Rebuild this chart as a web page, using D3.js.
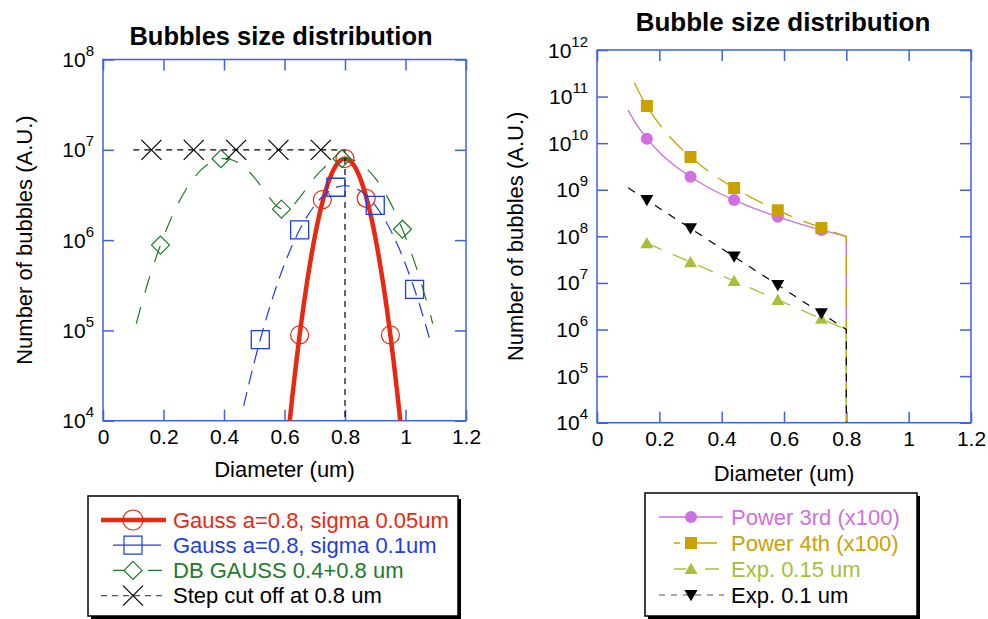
<!DOCTYPE html>
<html>
<head>
<meta charset="utf-8">
<script src="https://cdn.jsdelivr.net/npm/d3@7"></script>
<style>
  body { margin: 0; background: #fff; }
  svg { font-family: "Liberation Sans", Arial, Helvetica, sans-serif; }
</style>
</head>
<body>
<svg id="chart" width="988" height="619"></svg>
<script>
// ===========================================================
// DATA
// ===========================================================
var xTickValues = [0, 0.2, 0.4, 0.6, 0.8, 1, 1.2];
var leftDecades = [1e4, 1e5, 1e6, 1e7, 1e8];
var rightDecades = [1e4, 1e5, 1e6, 1e7, 1e8, 1e9, 1e10, 1e11, 1e12];

// --- left panel: Gauss a=0.8, sigma 0.05um
var narrowX = [0.6, 0.6125, 0.625, 0.6375, 0.65, 0.6625, 0.675, 0.6875, 0.7, 0.7125, 0.725, 0.7375, 0.75, 0.7625, 0.775, 0.7875, 0.8,
               0.8125, 0.825, 0.8375, 0.85, 0.8625, 0.875, 0.8875, 0.9, 0.9125, 0.925, 0.9375, 0.95, 0.9625, 0.975, 0.9875, 1.0];
var narrowY = [2.68e3, 7.07e3, 1.75e4, 4.07e4, 8.89e4, 1.82e5, 3.52e5, 6.36e5, 1.08e6, 1.73e6, 2.60e6, 3.66e6, 4.85e6, 6.04e6, 7.06e6, 7.75e6, 8.0e6,
               7.75e6, 7.06e6, 6.04e6, 4.85e6, 3.66e6, 2.60e6, 1.73e6, 1.08e6, 6.36e5, 3.52e5, 1.82e5, 8.89e4, 4.07e4, 1.75e4, 7.07e3, 2.68e3];
var narrowMarkX = [0.65, 0.725, 0.8, 0.87, 0.95];
var narrowMarkY = [8.9e4, 2.8e6, 8.0e6, 2.9e6, 8.9e4];

// --- left panel: Gauss a=0.8, sigma 0.1um
var wideX = [0.465, 0.5, 0.525, 0.55, 0.575, 0.6, 0.625, 0.65, 0.675, 0.7, 0.725, 0.75, 0.775, 0.8,
             0.825, 0.85, 0.875, 0.9, 0.925, 0.95, 0.975, 1.0, 1.025, 1.05, 1.075, 1.08];
var wideY = [1.46e4, 4.44e4, 9.12e4, 1.76e5, 3.18e5, 5.41e5, 8.65e5, 1.30e6, 1.83e6, 2.43e6, 3.02e6, 3.53e6, 3.88e6, 4.0e6,
             3.88e6, 3.53e6, 3.02e6, 2.43e6, 1.83e6, 1.30e6, 8.65e5, 5.41e5, 3.18e5, 1.76e5, 9.12e4, 7.93e4];
var wideMarkX = [0.52, 0.65, 0.77, 0.9, 1.03];
var wideMarkY = [7.9e4, 1.3e6, 3.85e6, 2.43e6, 2.84e5];

// --- left panel: DB GAUSS 0.4+0.8 um
var dbX = [0.11, 0.125, 0.15, 0.175, 0.2, 0.225, 0.25, 0.275, 0.3, 0.325, 0.35, 0.375, 0.4, 0.425, 0.45, 0.475, 0.5, 0.525, 0.55, 0.575, 0.6,
           0.625, 0.65, 0.675, 0.7, 0.725, 0.75, 0.775, 0.8, 0.825, 0.85, 0.875, 0.9, 0.925, 0.95, 0.975, 1.0, 1.025, 1.05, 1.075, 1.09];
var dbY = [1.19e5, 1.82e5, 3.52e5, 6.36e5, 1.08e6, 1.73e6, 2.60e6, 3.66e6, 4.85e6, 6.04e6, 7.06e6, 7.75e6, 8.0e6, 7.76e6, 7.08e6, 6.08e6, 4.94e6, 3.84e6, 2.95e6, 2.37e6, 2.17e6,
           2.37e6, 2.95e6, 3.84e6, 4.94e6, 6.08e6, 7.08e6, 7.76e6, 8.0e6, 7.75e6, 7.06e6, 6.04e6, 4.85e6, 3.66e6, 2.60e6, 1.73e6, 1.08e6, 6.36e5, 3.52e5, 1.82e5, 1.19e5];
var dbMarkX = [0.19, 0.39, 0.59, 0.79, 0.99];
var dbMarkY = [8.8e5, 7.96e6, 2.2e6, 7.96e6, 1.32e6];

// --- left panel: Step cut off at 0.8 um
var stepX = [0.1, 0.8];
var stepY = [1e7, 1e7];
var stepMarkX = [0.16, 0.30, 0.44, 0.58, 0.72];
var stepMarkY = [1e7, 1e7, 1e7, 1e7, 1e7];

// --- right panel (all series cut at 0.8 um)
var cutX = 0.8;
var cutY = 1e3;
var markX = [0.16, 0.30, 0.44, 0.58, 0.72];

var pow3X = [0.1, 0.125, 0.15, 0.2, 0.25, 0.3, 0.35, 0.4, 0.45, 0.5, 0.55, 0.6, 0.65, 0.7, 0.75, 0.8];
var pow3Y = [5.12e10, 2.62e10, 1.52e10, 6.4e9, 3.28e9, 1.9e9, 1.19e9, 8.0e8, 5.62e8, 4.1e8, 3.08e8, 2.37e8, 1.86e8, 1.49e8, 1.21e8, 1.0e8];
var pow3MarkY = [1.25e10, 1.9e9, 6.01e8, 2.62e8, 1.37e8];

var pow4X = [0.12, 0.13, 0.14, 0.15, 0.175, 0.2, 0.25, 0.3, 0.35, 0.4, 0.45, 0.5, 0.55, 0.6, 0.65, 0.7, 0.75, 0.8];
var pow4Y = [1.975e11, 1.434e11, 1.066e11, 8.09e10, 4.37e10, 2.56e10, 1.049e10, 5.06e9, 2.73e9, 1.6e9, 9.99e8, 6.55e8, 4.48e8, 3.16e8, 2.29e8, 1.71e8, 1.29e8, 1.0e8];
var pow4MarkY = [6.25e10, 5.06e9, 1.09e9, 3.62e8, 1.52e8];

var exp15X = [0.16, 0.3, 0.44, 0.58, 0.72, 0.8];
var exp15Y = [7.13e7, 2.8e7, 1.1e7, 4.33e6, 1.7e6, 1.0e6];
var exp15MarkY = [7.13e7, 2.8e7, 1.1e7, 4.33e6, 1.7e6];

var exp10X = [0.1, 0.2, 0.3, 0.4, 0.5, 0.6, 0.7, 0.8];
var exp10Y = [1.10e9, 4.03e8, 1.48e8, 5.46e7, 2.01e7, 7.39e6, 2.72e6, 1.0e6];
var exp10MarkY = [6.02e8, 1.48e8, 3.66e7, 9.02e6, 2.22e6];

// ===========================================================
// STYLE
// ===========================================================
var frameColor = '#3f60e8';
var red = '#e8290f', blue = '#1e3de4', green = '#227a2c';
var pink = '#d070e0', gold = '#c9a200', lime = '#a6c03a';

function zip(xs, ys) { return xs.map(function(v, i) { return [v, ys[i]]; }); }

var svg = d3.select('#chart');

// ===========================================================
// PANEL (frame, ticks, labels)
// ===========================================================
function makePanel(opt) {
    var x = d3.scaleLinear().domain([0, 1.2]).range([opt.left, opt.right]);
    var y = d3.scaleLog().domain(opt.yDomain).range([opt.bottom, opt.top]);
    var g = svg.append('g');

    g.append('clipPath').attr('id', opt.id)
        .append('rect')
        .attr('x', opt.left).attr('y', opt.top)
        .attr('width', opt.right - opt.left).attr('height', opt.bottom - opt.top);

    var bottomAxis = g.append('g')
        .attr('transform', 'translate(0,' + opt.bottom + ')')
        .call(d3.axisBottom(x).tickValues(xTickValues).tickSize(-11).tickPadding(8).tickFormat(function(d) { return String(d); }));
    var topAxis = g.append('g')
        .attr('transform', 'translate(0,' + opt.top + ')')
        .call(d3.axisTop(x).tickValues(xTickValues).tickSize(-11).tickFormat(''));
    var leftAxis = g.append('g')
        .attr('transform', 'translate(' + opt.left + ',0)')
        .call(d3.axisLeft(y).tickValues(opt.decades).tickSize(-11).tickFormat(''));
    var rightAxis = g.append('g')
        .attr('transform', 'translate(' + opt.right + ',0)')
        .call(d3.axisRight(y).tickValues(opt.decades).tickSize(-11).tickFormat(''));

    [bottomAxis, topAxis, leftAxis, rightAxis].forEach(function(a) {
        a.select('.domain').remove();
        a.selectAll('.tick line').attr('stroke', frameColor).attr('stroke-width', 1.5);
    });
    bottomAxis.selectAll('.tick text')
        .attr('fill', '#000').style('font-size', '21px').style('font-family', 'inherit');

    // decade labels: 10 with superscript exponent
    var lbl = leftAxis.selectAll('.tick').append('text')
        .attr('x', -9).attr('y', 7)
        .attr('fill', '#000')
        .attr('text-anchor', 'end')
        .style('font-size', '21px');
    lbl.append('tspan').text('10');
    lbl.append('tspan')
        .attr('dy', -11)
        .style('font-size', '15px')
        .text(function(d) { return Math.round(Math.log10(d)); });

    g.append('rect')
        .attr('x', opt.left).attr('y', opt.top)
        .attr('width', opt.right - opt.left).attr('height', opt.bottom - opt.top)
        .attr('fill', 'none').attr('stroke', frameColor).attr('stroke-width', 1.5);

    g.append('text')
        .attr('x', opt.titleX).attr('y', opt.titleY)
        .attr('text-anchor', 'middle')
        .style('font-size', opt.titleSize + 'px').style('font-weight', 'bold')
        .text(opt.title);

    g.append('text')
        .attr('x', (opt.left + opt.right) / 2).attr('y', opt.xLabelY)
        .attr('text-anchor', 'middle').style('font-size', '22px')
        .text('Diameter (um)');

    g.append('text')
        .attr('transform', 'translate(' + opt.yLabelX + ',' + (opt.top + opt.bottom) / 2 + ') rotate(-90)')
        .attr('text-anchor', 'middle').style('font-size', '22px')
        .text('Number of bubbles (A.U.)');

    var plot = g.append('g').attr('clip-path', 'url(#' + opt.id + ')');
    return { x: x, y: y, g: g, plot: plot };
}

function drawLine(p, pts, curve, color, width, dash, drop) {
    var line = d3.line().x(function(d) { return p.x(d[0]); }).y(function(d) { return p.y(d[1]); }).curve(curve);
    var d = line(pts);
    if (drop) {
        var lin = d3.line().x(function(d) { return p.x(d[0]); }).y(function(d) { return p.y(d[1]); });
        d += lin([pts[pts.length - 1], drop]).replace(/^M[^L]*/, '');
    }
    p.plot.append('path')
        .attr('d', d)
        .attr('fill', 'none')
        .attr('stroke', color)
        .attr('stroke-width', width)
        .attr('stroke-dasharray', dash || null)
        .attr('stroke-linejoin', 'round');
}

// marker shapes centred on (cx, cy)
function markerPath(kind, cx, cy, s) {
    var h = s / 2;
    if (kind === 'square') return 'M' + (cx - h) + ',' + (cy - h) + 'h' + s + 'v' + s + 'h' + (-s) + 'Z';
    if (kind === 'diamond') return 'M' + cx + ',' + (cy - h) + 'L' + (cx + h) + ',' + cy + 'L' + cx + ',' + (cy + h) + 'L' + (cx - h) + ',' + cy + 'Z';
    if (kind === 'times') return 'M' + (cx - h) + ',' + (cy - h) + 'L' + (cx + h) + ',' + (cy + h) + 'M' + (cx - h) + ',' + (cy + h) + 'L' + (cx + h) + ',' + (cy - h);
    if (kind === 'up') return 'M' + cx + ',' + (cy - h * 0.95) + 'L' + (cx + h) + ',' + (cy + h * 0.78) + 'L' + (cx - h) + ',' + (cy + h * 0.78) + 'Z';
    if (kind === 'down') return 'M' + cx + ',' + (cy + h * 0.95) + 'L' + (cx + h) + ',' + (cy - h * 0.78) + 'L' + (cx - h) + ',' + (cy - h * 0.78) + 'Z';
    return d3.path().toString();
}

function drawMarkers(target, pts, sx, sy, kind, size, color, filled, sw) {
    if (kind === 'circle') {
        target.selectAll(null).data(pts).enter().append('circle')
            .attr('cx', function(d) { return sx(d[0]); })
            .attr('cy', function(d) { return sy(d[1]); })
            .attr('r', size / 2)
            .attr('fill', filled ? color : 'none')
            .attr('stroke', color).attr('stroke-width', filled ? 0 : sw);
        return;
    }
    target.selectAll(null).data(pts).enter().append('path')
        .attr('d', function(d) { return markerPath(kind, sx(d[0]), sy(d[1]), size); })
        .attr('fill', filled ? color : 'none')
        .attr('stroke', filled ? 'none' : color)
        .attr('stroke-width', sw);
}

// ===========================================================
// LEFT PANEL
// ===========================================================
var L = makePanel({
    id: 'clipL', left: 103, right: 466, top: 59.5, bottom: 420.7,
    yDomain: [1e4, 1e8], decades: leftDecades,
    title: 'Bubbles size distribution', titleX: 281, titleY: 45, titleSize: 25.5,
    xLabelY: 477, yLabelX: 32
});

drawLine(L, zip(narrowX, narrowY), d3.curveMonotoneX, red, 4.5, null);
drawLine(L, zip(wideX, wideY), d3.curveMonotoneX, blue, 1.2, '14,8');
drawLine(L, zip(dbX, dbY), d3.curveMonotoneX, green, 1.2, '17,15');
drawLine(L, zip(stepX, stepY), d3.curveLinear, '#000', 1.2, '6,5', [0.8, 1e3]);

drawMarkers(L.plot, zip(narrowMarkX, narrowMarkY), L.x, L.y, 'circle', 18, red, false, 1.2);
drawMarkers(L.plot, zip(wideMarkX, wideMarkY), L.x, L.y, 'square', 18, blue, false, 1.3);
drawMarkers(L.plot, zip(dbMarkX, dbMarkY), L.x, L.y, 'diamond', 18, green, false, 1.2);
drawMarkers(L.plot, zip(stepMarkX, stepMarkY), L.x, L.y, 'times', 20, '#000', false, 1.2);

// ===========================================================
// RIGHT PANEL
// ===========================================================
var R = makePanel({
    id: 'clipR', left: 597, right: 971, top: 50, bottom: 422.7,
    yDomain: [1e4, 1e12], decades: rightDecades,
    title: 'Bubble size distribution', titleX: 783, titleY: 31, titleSize: 26,
    xLabelY: 481, yLabelX: 523
});

drawLine(R, zip(pow3X, pow3Y), d3.curveMonotoneX, pink, 1.3, null, [cutX, cutY]);
drawLine(R, zip(pow4X, pow4Y), d3.curveMonotoneX, gold, 1.3, '20,12', [cutX, cutY]);
drawLine(R, zip(exp15X, exp15Y), d3.curveLinear, lime, 1.3, '16,12', [cutX, cutY]);
drawLine(R, zip(exp10X, exp10Y), d3.curveLinear, '#000', 1.2, '8,8', [cutX, cutY]);

drawMarkers(R.plot, zip(markX, pow3MarkY), R.x, R.y, 'circle', 12, pink, true, 0);
drawMarkers(R.plot, zip(markX, pow4MarkY), R.x, R.y, 'square', 12, gold, true, 0);
drawMarkers(R.plot, zip(markX, exp15MarkY), R.x, R.y, 'up', 13, lime, true, 0);
drawMarkers(R.plot, zip(markX, exp10MarkY), R.x, R.y, 'down', 13, '#000', true, 0);

// ===========================================================
// LEGENDS
// ===========================================================
function legendBox(x0, y0, w, h) {
    svg.append('rect').attr('x', x0 + 3).attr('y', y0 + 3).attr('width', w).attr('height', h).attr('fill', '#000');
    svg.append('rect').attr('x', x0).attr('y', y0).attr('width', w).attr('height', h)
        .attr('fill', '#fff').attr('stroke', '#000').attr('stroke-width', 1.5);
}

var leftLegend = [
    { label: 'Gauss a=0.8, sigma 0.05um', color: red, width: 4.5, dash: null, x1: 101, x2: 166, kind: 'circle', size: 20, filled: false },
    { label: 'Gauss a=0.8, sigma 0.1um', color: blue, width: 1.2, dash: null, x1: 113, x2: 161, kind: 'square', size: 18, filled: false },
    { label: 'DB GAUSS 0.4+0.8 um', color: green, width: 1.2, dash: '12,23,14', x1: 113, x2: 162, kind: 'diamond', size: 18, filled: false },
    { label: 'Step cut off at 0.8 um', color: '#000', width: 1.2, dash: '6,5', x1: 101, x2: 167, kind: 'times', size: 20, filled: false, textColor: '#000', lineColor: '#555' }
];
var rightLegend = [
    { label: 'Power 3rd (x100)', color: pink, width: 1.3, dash: null, x1: 659, x2: 723, kind: 'circle', size: 12, filled: true },
    { label: 'Power 4th (x100)', color: gold, width: 1.3, dash: '6,9,28', x1: 674, x2: 719, kind: 'square', size: 12, filled: true },
    { label: 'Exp. 0.15 um', color: lime, width: 1.3, dash: '12,19,14', x1: 674, x2: 719, kind: 'up', size: 13, filled: true },
    { label: 'Exp. 0.1 um', color: '#000', width: 1.2, dash: '6,6', x1: 659, x2: 724, kind: 'down', size: 13, filled: true, lineColor: '#555' }
];

function drawLegend(items, markerX, textX, rowY, rowStep, markerOffset) {
    var ident = function(v) { return v; };
    items.forEach(function(it, i) {
        var base = rowY + i * rowStep;
        var cy = base - markerOffset;
        svg.append('line')
            .attr('x1', it.x1).attr('x2', it.x2).attr('y1', cy).attr('y2', cy)
            .attr('stroke', it.lineColor || it.color).attr('stroke-width', it.width)
            .attr('stroke-dasharray', it.dash);
        drawMarkers(svg, [[markerX, cy]], ident, ident, it.kind, it.size, it.color, it.filled, 1.2);
        svg.append('text')
            .attr('x', textX).attr('y', base)
            .attr('fill', it.textColor || it.color)
            .style('font-size', '22px')
            .text(it.label);
    });
}

legendBox(88, 496, 370, 120);
drawLegend(leftLegend, 133, 173, 527.5, 25.2, 7.5);

legendBox(645, 493, 272, 123);
drawLegend(rightLegend, 691, 731, 525, 26, 8);
</script>
</body>
</html>
